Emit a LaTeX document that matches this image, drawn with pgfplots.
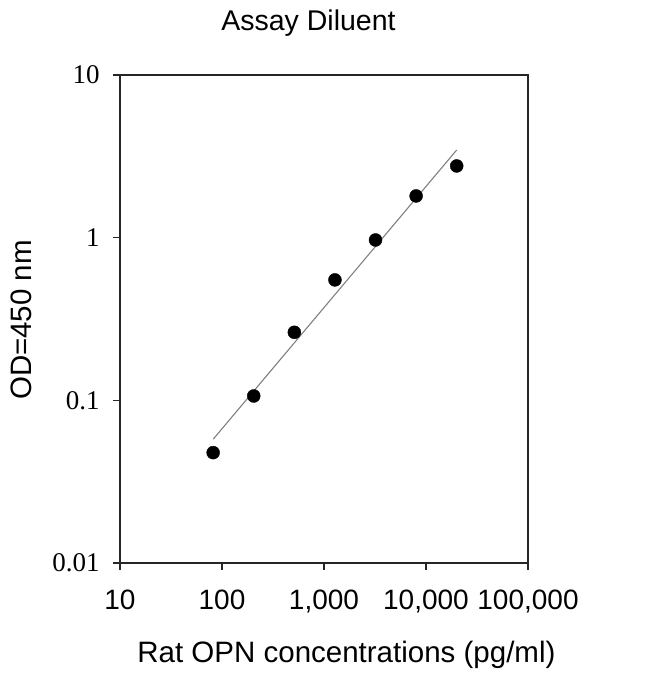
\documentclass[border=0pt]{standalone}
\usepackage{fontspec}
\setmainfont{Liberation Sans}
\newfontfamily\timesf{Liberation Serif}
\usepackage{pgfplots}
\pgfplotsset{compat=1.18}

\begin{document}
\begin{tikzpicture}
% fix the page to the reference's size; the axis box starts at (0,0)
\useasboundingbox (-120bp,-111bp) rectangle (530bp,563bp);
\begin{axis}[
    scale only axis,
    width=408bp, height=488bp,
    xmode=log, ymode=log,
    xmin=10, xmax=100000,
    ymin=0.01, ymax=10,
    xtick={10,100,1000,10000,100000},
    xticklabels={10,100,{1,000},{10,000},{100,000}},
    ytick={0.01,0.1,1,10},
    yticklabels={0.01,0.1,1,10},
    xminorticks=false, yminorticks=false,
    xtick pos=bottom, ytick pos=left,
    tick align=outside,
    major tick length=7bp,
    axis line style={line width=1.6bp, black!85},
    every tick/.style={line width=1.3bp, black!85},
    xticklabel style={font=\fontsize{28bp}{32bp}\selectfont, yshift=-16bp},
    yticklabel style={font=\timesf\fontsize{27bp}{30bp}\selectfont, xshift=-10bp},
    every axis title shift=0pt,
    title={Assay Diluent},
    title style={font=\fontsize{28.5bp}{32bp}\selectfont, at={(axis description cs:0.462,1.0922)}, anchor=base},
    xlabel={Rat OPN concentrations (pg/ml)},
    xlabel style={font=\fontsize{29.5bp}{32bp}\selectfont, at={(axis description cs:0.555,-0.2029)}, anchor=base},
    ylabel={OD=450 nm},
    ylabel style={font=\fontsize{29.5bp}{32bp}\selectfont, at={(axis description cs:-0.218,0.498)}, anchor=base, rotate=0},
]
% fitted line
\addplot[black!50, line width=1.1bp] coordinates {
    (82,0.0577) (20000,3.46)
};
% standards
\addplot[only marks, mark=*, mark size=6.5bp, black] coordinates {
    (81.92,0.0477) (204.8,0.1064) (512,0.262) (1280,0.550)
    (3200,0.968) (8000,1.805) (20000,2.76)
};
\end{axis}
\end{tikzpicture}
\end{document}
